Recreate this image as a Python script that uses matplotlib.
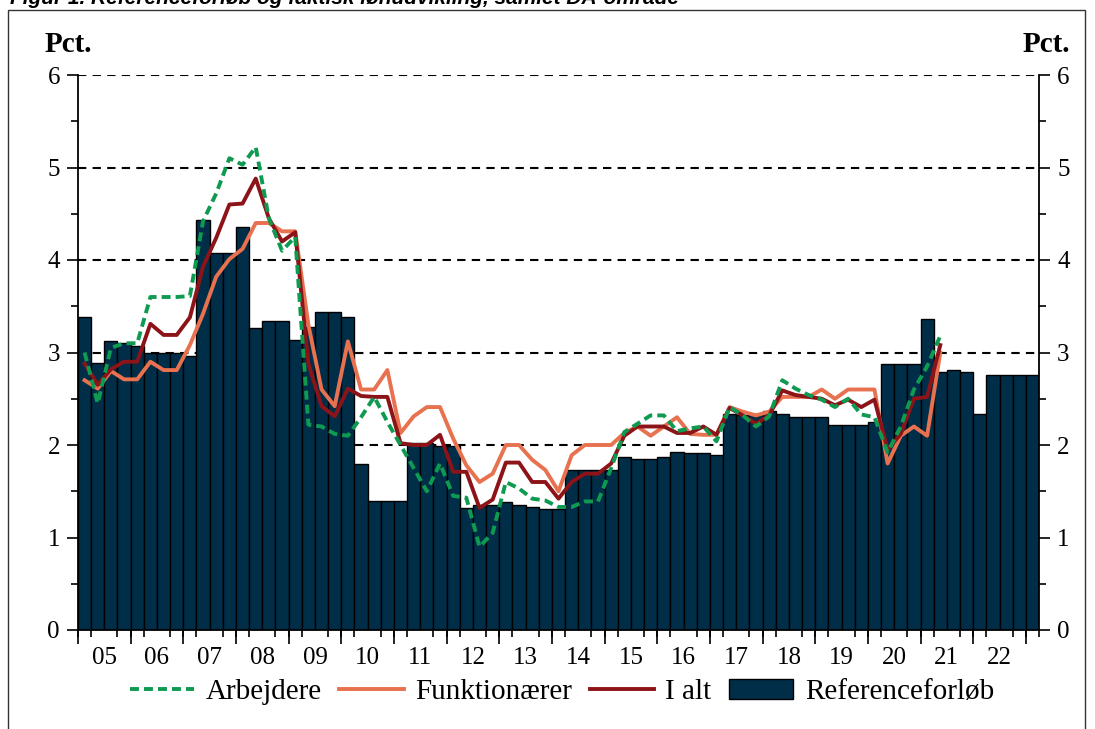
import matplotlib
matplotlib.use('Agg')
import matplotlib.pyplot as plt
from matplotlib.patches import Rectangle, Patch
from matplotlib.lines import Line2D
from matplotlib.ticker import FixedLocator, MultipleLocator

# Quarterly values 2005K1 - 2023K1 (bars) and 2005K1 - 2021K2 (lines), pct.
reference = [3.38, 2.89, 3.12, 3.10, 3.07, 3.00, 3.00, 3.00,
             2.96, 4.43, 4.08, 4.08, 4.36, 3.27, 3.34, 3.34,
             3.13, 3.28, 3.44, 3.44, 3.38, 1.79, 1.39, 1.39,
             1.39, 2.02, 2.02, 1.99, 1.99, 1.32, 1.35, 1.35,
             1.38, 1.35, 1.33, 1.31, 1.31, 1.73, 1.73, 1.73,
             1.73, 1.87, 1.85, 1.85, 1.87, 1.92, 1.91, 1.91,
             1.89, 2.34, 2.32, 2.34, 2.37, 2.33, 2.30, 2.30,
             2.30, 2.22, 2.22, 2.22, 2.25, 2.88, 2.88, 2.88,
             3.36, 2.79, 2.81, 2.79, 2.33, 2.76, 2.76, 2.76,
             2.76]

arbejdere = [3.00, 2.45, 3.05, 3.10, 3.10, 3.60, 3.60, 3.60,
             3.61, 4.42, 4.72, 5.10, 5.03, 5.22, 4.45, 4.10,
             4.25, 2.22, 2.20, 2.12, 2.10, 2.30, 2.52, 2.25,
             2.00, 1.75, 1.50, 1.80, 1.45, 1.43, 0.90, 1.05,
             1.60, 1.53, 1.42, 1.40, 1.33, 1.33, 1.39, 1.39,
             1.75, 2.14, 2.23, 2.32, 2.32, 2.15, 2.18, 2.20,
             2.04, 2.41, 2.32, 2.20, 2.31, 2.70, 2.61, 2.54,
             2.49, 2.41, 2.50, 2.33, 2.30, 1.92, 2.20, 2.60,
             2.85, 3.18]

funktionaerer = [2.70, 2.61, 2.80, 2.71, 2.71, 2.90, 2.81, 2.81,
                 3.08, 3.42, 3.82, 4.01, 4.12, 4.40, 4.40, 4.31,
                 4.31, 3.30, 2.60, 2.42, 3.12, 2.60, 2.60, 2.81,
                 2.13, 2.31, 2.41, 2.41, 2.07, 1.78, 1.60, 1.69,
                 2.00, 2.00, 1.84, 1.73, 1.50, 1.89, 2.00, 2.00,
                 2.00, 2.13, 2.20, 2.10, 2.20, 2.30, 2.12, 2.11,
                 2.11, 2.41, 2.36, 2.32, 2.36, 2.52, 2.52, 2.52,
                 2.60, 2.50, 2.60, 2.60, 2.60, 1.80, 2.10, 2.20,
                 2.10, 3.00]

i_alt = [2.88, 2.65, 2.82, 2.90, 2.90, 3.31, 3.19, 3.19,
         3.38, 3.93, 4.24, 4.60, 4.61, 4.88, 4.45, 4.20,
         4.30, 2.88, 2.42, 2.31, 2.61, 2.53, 2.52, 2.52,
         2.02, 2.00, 2.00, 2.11, 1.71, 1.71, 1.32, 1.41,
         1.81, 1.81, 1.60, 1.60, 1.42, 1.60, 1.69, 1.69,
         1.80, 2.10, 2.20, 2.20, 2.20, 2.13, 2.13, 2.20,
         2.11, 2.40, 2.32, 2.23, 2.32, 2.59, 2.54, 2.52,
         2.50, 2.43, 2.49, 2.41, 2.49, 1.95, 2.12, 2.50,
         2.52, 3.08]

years = ['05', '06', '07', '08', '09', '10', '11', '12', '13',
         '14', '15', '16', '17', '18', '19', '20', '21', '22']

NAVY = '#002d48'
GREEN = '#0f9a52'
ORANGE = '#e8714f'
DARKRED = '#8c1419'
LW = 2.8
DASH = (0, (2.3, 1.3))


def main():
    plt.rcParams['font.family'] = ['Liberation Serif', 'DejaVu Serif']

    W, H = 1095, 729
    fig = plt.figure(figsize=(W / 100, H / 100), dpi=100)
    ax = fig.add_axes([78 / W, 1 - 630 / H, (1039 - 78) / W, (630 - 75) / H])

    xb = list(range(len(reference)))
    ax.bar(xb, reference, width=1.0, color=NAVY, edgecolor='black',
           linewidth=1.0, zorder=2)

    xl = list(range(len(i_alt)))
    ax.plot(xl, funktionaerer, color=ORANGE, lw=LW, zorder=3)
    ax.plot(xl, i_alt, color=DARKRED, lw=LW, zorder=4)
    ax.plot(xl, arbejdere, color=GREEN, lw=LW, ls=DASH, zorder=5)

    ax.set_xlim(-0.5, len(reference) - 0.5)
    ax.set_ylim(0, 6)

    # y axis, labels both sides
    ax.yaxis.set_major_locator(MultipleLocator(1))
    ax.yaxis.set_minor_locator(MultipleLocator(0.5))
    ax.tick_params(axis='y', which='both', direction='out', left=True,
                   right=True, labelleft=True, labelright=True,
                   labelsize=18, width=1.2)
    ax.tick_params(axis='y', which='major', length=8, pad=5)
    ax.tick_params(axis='y', which='minor', length=5)
    ax.yaxis.grid(True, which='major', color='black', lw=1.5,
                  ls=(0, (4, 3)))
    ax.set_axisbelow(True)

    # x axis: year labels centred, quarter ticks, longer ticks at year breaks
    ax.xaxis.set_major_locator(FixedLocator([4 * i + 1.5 for i in range(len(years))]))
    ax.set_xticklabels(years)
    ax.xaxis.set_minor_locator(FixedLocator([k - 0.5 for k in range(len(reference) + 1)]))
    ax.tick_params(axis='x', which='major', length=0, labelsize=18, pad=12)
    ax.tick_params(axis='x', which='minor', length=5, width=1.2, direction='out')

    sec = ax.secondary_xaxis('bottom')
    sec.set_xticks([4 * i - 0.5 for i in range(19)])
    sec.tick_params(axis='x', length=10, width=1.2, labelbottom=False)
    sec.spines['bottom'].set_visible(False)

    ax.spines['top'].set_visible(False)
    for s in ['left', 'right', 'bottom']:
        ax.spines[s].set_linewidth(1.3)

    fig.text(68 / W, 1 - 45 / H, 'Pct.', ha='center', va='center',
             fontsize=21, fontweight='bold')
    fig.text(1046 / W, 1 - 45 / H, 'Pct.', ha='center', va='center',
             fontsize=21, fontweight='bold')

    # heading above the frame, cut by the top edge as in the source
    fig.text(10 / W, 1 - 4 / H,
             'Figur 1. Referenceforløb og faktisk lønudvikling, samlet DA-område',
             family='Liberation Sans', fontweight='bold', fontstyle='italic',
             fontsize=15, va='baseline', ha='left')

    fig.patches.append(Rectangle((8 / W, -0.02), (1085 - 8) / W, 1.02 - 10 / H,
                                 transform=fig.transFigure, fill=False,
                                 edgecolor='#333333', lw=1.0))

    handles = [
        Line2D([], [], color=GREEN, lw=LW, ls=DASH),
        Line2D([], [], color=ORANGE, lw=LW),
        Line2D([], [], color=DARKRED, lw=LW),
        Patch(facecolor=NAVY, edgecolor='black', lw=1.0),
    ]
    labels = ['Arbejdere', 'Funktionærer', 'I alt', 'Referenceforløb']
    fig.legend(handles, labels, loc='center', bbox_to_anchor=(562 / W, 1 - 692 / H),
               ncol=4, frameon=False, fontsize=21, handlelength=2.2,
               handletextpad=0.4, columnspacing=0.6, borderpad=0)

    plt.savefig('out.png', dpi=100)


if __name__ == '__main__':
    main()
